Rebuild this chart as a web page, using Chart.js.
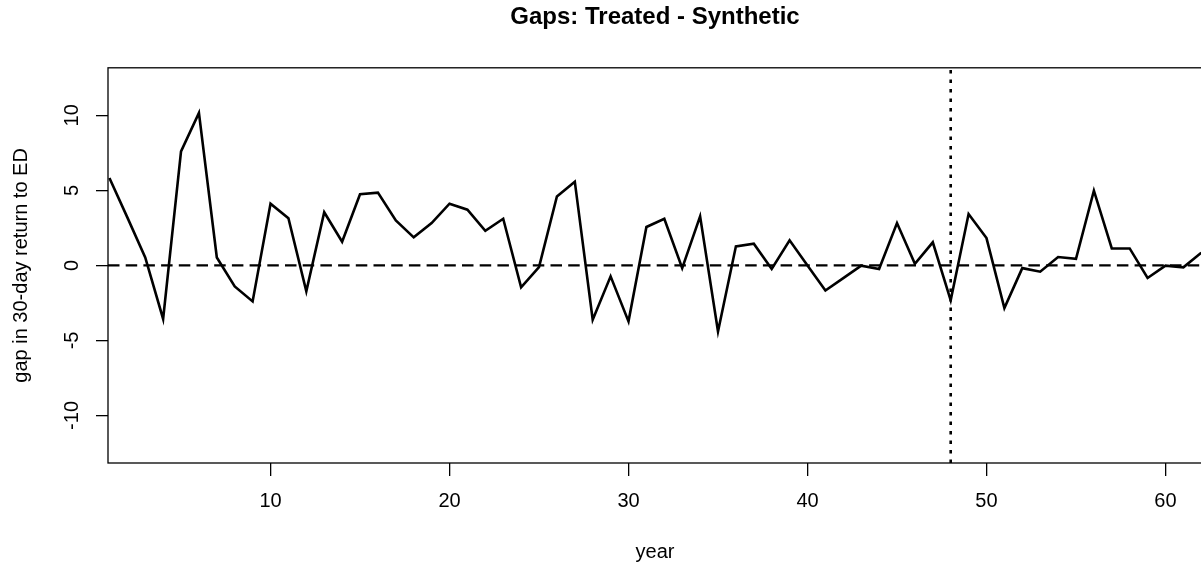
<!DOCTYPE HTML>
<html>
<head>
    <meta charset="utf-8">
    <script src="https://cdn.jsdelivr.net/npm/chart.js"></script>
    <style>
        body {
            margin: 0;
            background: white;
            overflow: hidden;
        }
        .chart-box {
            position: relative;
            width: 1210px;
            height: 567px;
        }
    </style>
</head>
<body>
    <div class="chart-box">
        <canvas id="gapChart"></canvas>
    </div>

    <script>
        // data
        const years = [1, 2, 3, 4, 5, 6, 7, 8, 9, 10, 11, 12, 13, 14, 15, 16, 17, 18, 19, 20,
                       21, 22, 23, 24, 25, 26, 27, 28, 29, 30, 31, 32, 33, 34, 35, 36, 37, 38, 39, 40,
                       41, 42, 43, 44, 45, 46, 47, 48, 49, 50, 51, 52, 53, 54, 55, 56, 57, 58, 59, 60,
                       61, 62];
        const gaps = [5.83, 3.2, 0.53, -3.57, 7.6, 10.16, 0.53, -1.4, -2.4, 4.11,
                      3.14, -1.73, 3.54, 1.58, 4.74, 4.85, 3.0, 1.87, 2.82, 4.11,
                      3.71, 2.31, 3.11, -1.46, -0.11, 4.6, 5.58, -3.62, -0.73, -3.73,
                      2.56, 3.11, -0.18, 3.27, -4.4, 1.27, 1.45, -0.24, 1.67, 0.0,
                      -1.67, -0.85, -0.02, -0.24, 2.82, 0.11, 1.54, -2.33, 3.42, 1.82,
                      -2.84, -0.18, -0.42, 0.56, 0.44, 4.98, 1.13, 1.13, -0.84, -0.02,
                      -0.13, 0.85];
        const treatYear = 48;
        const zeroLine = 0;
        const xTicks = [10, 20, 30, 40, 50, 60];
        const yTicks = [-10, -5, 0, 5, 10];

        const xMin = 0.92, xMax = 62.04;
        const yMin = -13.17, yMax = 13.17;
        const fontFamily = "'Liberation Sans', Arial, sans-serif";

        // R style box round the plot region
        const boxPlugin = {
            id: 'box',
            afterDraw(chart) {
                const a = chart.chartArea;
                const ctx = chart.ctx;
                ctx.save();
                ctx.strokeStyle = '#000';
                ctx.lineWidth = 1.3;
                ctx.strokeRect(a.left, a.top, a.right - a.left, a.bottom - a.top);
                ctx.restore();
            }
        };

        // y tick labels turned like R's las=0
        const yLabelPlugin = {
            id: 'yLabels',
            afterDraw(chart) {
                const scale = chart.scales.y;
                const ctx = chart.ctx;
                ctx.save();
                ctx.fillStyle = '#000';
                ctx.font = '20px ' + fontFamily;
                ctx.textAlign = 'center';
                ctx.textBaseline = 'middle';
                scale.ticks.forEach(t => {
                    const py = scale.getPixelForValue(t.value);
                    ctx.save();
                    ctx.translate(72, py);
                    ctx.rotate(-Math.PI / 2);
                    ctx.fillText(String(t.value), 0, 0);
                    ctx.restore();
                });
                ctx.restore();
            }
        };

        const ctx = document.getElementById('gapChart').getContext('2d');
        const gapChart = new Chart(ctx, {
            type: 'line',
            data: {
                datasets: [{
                    label: 'gap',
                    data: years.map((y, i) => ({x: y, y: gaps[i]})),
                    borderColor: '#000',
                    borderWidth: 2.6,
                    pointRadius: 0,
                    tension: 0,
                    borderJoinStyle: 'miter'
                }, {
                    label: 'zero',
                    data: [{x: xMin, y: zeroLine}, {x: xMax, y: zeroLine}],
                    borderColor: '#000',
                    borderWidth: 2.2,
                    borderDash: [11.5, 6.2],
                    pointRadius: 0
                }, {
                    label: 'treatment',
                    data: [{x: treatYear, y: yMin}, {x: treatYear, y: yMax}],
                    borderColor: '#000',
                    borderWidth: 2.6,
                    borderDash: [3.5, 6],
                    pointRadius: 0
                }]
            },
            options: {
                responsive: true,
                maintainAspectRatio: false,
                animation: false,
                events: [],
                layout: {
                    padding: {left: 0, right: 8, top: 0, bottom: 0}
                },
                plugins: {
                    legend: {display: false},
                    tooltip: {enabled: false},
                    title: {
                        display: true,
                        text: 'Gaps: Treated - Synthetic',
                        fullSize: false,
                        color: '#000',
                        font: {family: fontFamily, size: 24, weight: 'bold'},
                        padding: {top: 3, bottom: 36}
                    }
                },
                scales: {
                    x: {
                        type: 'linear',
                        min: xMin,
                        max: xMax,
                        afterFit(scale) { scale.height = 104; },
                        afterBuildTicks(scale) {
                            scale.ticks = xTicks.map(v => ({value: v}));
                        },
                        border: {display: false},
                        grid: {
                            drawOnChartArea: false,
                            drawTicks: true,
                            tickLength: 13,
                            color: '#000',
                            lineWidth: 1.3
                        },
                        ticks: {
                            color: '#000',
                            padding: 13,
                            maxRotation: 0,
                            font: {family: fontFamily, size: 20}
                        },
                        title: {
                            display: true,
                            text: 'year',
                            color: '#000',
                            font: {family: fontFamily, size: 20},
                            padding: {top: 0, bottom: 3}
                        }
                    },
                    y: {
                        min: yMin,
                        max: yMax,
                        afterFit(scale) { scale.width = 108; },
                        afterBuildTicks(scale) {
                            scale.ticks = yTicks.map(v => ({value: v}));
                        },
                        border: {display: false},
                        grid: {
                            drawOnChartArea: false,
                            drawTicks: true,
                            tickLength: 12,
                            color: '#000',
                            lineWidth: 1.3
                        },
                        ticks: {
                            color: 'rgba(0,0,0,0)',
                            font: {family: fontFamily, size: 20}
                        },
                        title: {
                            display: true,
                            text: 'gap in 30-day return to ED',
                            color: '#000',
                            font: {family: fontFamily, size: 20},
                            padding: {top: 9, bottom: 0}
                        }
                    }
                }
            },
            plugins: [boxPlugin, yLabelPlugin]
        });
    </script>
</body>
</html>
